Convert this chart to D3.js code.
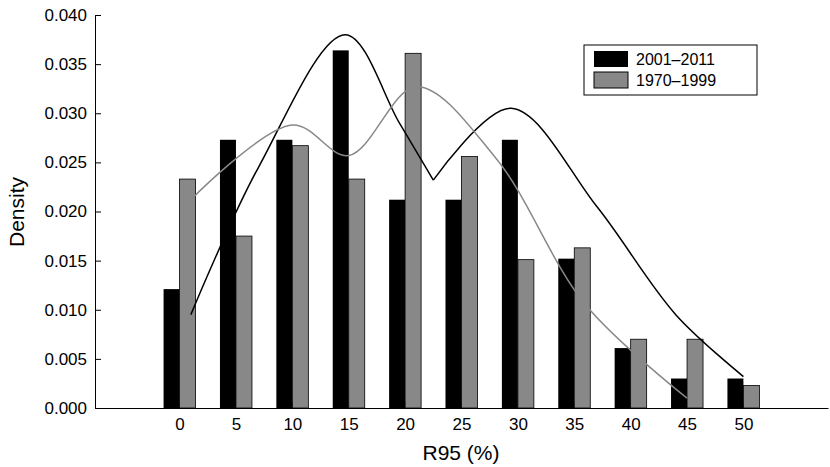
<!DOCTYPE html>
<html><head><meta charset="utf-8">
<script src="https://cdn.jsdelivr.net/npm/d3@7"></script>
<style>body{margin:0;background:#fff}text{font-family:"Liberation Sans",Arial,sans-serif}</style>
</head><body>
<svg id="c" width="830" height="467"></svg>
<script>
// R95 density histogram with fitted curves
var cats = [0, 5, 10, 15, 20, 25, 30, 35, 40, 45, 50];
var recent = [0.0121, 0.0273, 0.0273, 0.0364, 0.0212, 0.0212, 0.0273, 0.0152, 0.0061, 0.0030, 0.0030];
var past = [0.0233, 0.0175, 0.0267, 0.0233, 0.0361, 0.0256, 0.0151, 0.0163, 0.0070, 0.0070, 0.0023];
var yTicks = [0, 0.005, 0.010, 0.015, 0.020, 0.025, 0.030, 0.035, 0.040];
// fitted curves (black split at its cusp)
var recentCurveA = [[1, 0.0095], [7, 0.0245], [14.7, 0.038], [19.5, 0.0290], [22.5, 0.0232]];
var recentCurveB = [[22.5, 0.0232], [29.4, 0.0305], [37, 0.0205], [44, 0.0095], [50, 0.0032]];
var pastCurve = [[1, 0.0212], [10, 0.0288], [15, 0.0257], [21, 0.0327], [28, 0.0255], [36, 0.0105], [45, 0.0010]];

var svg = d3.select('#c');
var x = d3.scaleLinear().domain([-7.5, 57.5]).range([95, 828]);
var y = d3.scaleLinear().domain([0, 0.04]).range([408, 15]);
var bw = 16;

svg.append('g').attr('transform', 'translate(0,408)')
	.call(d3.axisBottom(x).tickValues(cats).tickSize(-6).tickSizeOuter(0).tickPadding(10))
	.call(function (g) {g.selectAll('text').style('font-size', '17px').attr('fill', '#000');});
svg.append('g').attr('transform', 'translate(95,0)')
	.call(d3.axisLeft(y).tickValues(yTicks).tickFormat(d3.format('.3f')).tickSize(-6).tickSizeOuter(0).tickPadding(8))
	.call(function (g) {g.selectAll('text').style('font-size', '17px').attr('fill', '#000');});
svg.selectAll('.domain').attr('stroke', '#000');
svg.selectAll('.tick line').attr('stroke', '#000');

svg.selectAll('rect.r').data(cats).enter().append('rect')
	.attr('x', function (d) {return x(d) - bw;}).attr('width', bw)
	.attr('y', function (d, i) {return y(recent[i]);})
	.attr('height', function (d, i) {return 408 - y(recent[i]);})
	.attr('fill', '#000');
svg.selectAll('rect.p').data(cats).enter().append('rect')
	.attr('x', function (d) {return x(d);}).attr('width', bw)
	.attr('y', function (d, i) {return y(past[i]);})
	.attr('height', function (d, i) {return 408 - y(past[i]);})
	.attr('fill', '#888').attr('stroke', '#000').attr('stroke-width', 0.8);

var line = d3.line().x(function (d) {return x(d[0]);}).y(function (d) {return y(d[1]);}).curve(d3.curveCatmullRom.alpha(0.5));
[recentCurveA, recentCurveB].forEach(function (c) {
	svg.append('path').attr('d', line(c)).attr('fill', 'none').attr('stroke', '#000').attr('stroke-width', 1.5);
});
svg.append('path').attr('d', line(pastCurve)).attr('fill', 'none').attr('stroke', '#888').attr('stroke-width', 1.5);

// legend
var lg = svg.append('g');
lg.append('rect').attr('x', 584).attr('y', 45).attr('width', 173).attr('height', 50).attr('fill', '#fff').attr('stroke', '#000');
lg.append('rect').attr('x', 594).attr('y', 51).attr('width', 34).attr('height', 16).attr('fill', '#000');
lg.append('rect').attr('x', 594).attr('y', 72).attr('width', 34).attr('height', 16).attr('fill', '#888').attr('stroke', '#000');
lg.append('text').attr('x', 636).attr('y', 65).style('font-size', '16px').text('2001–2011');
lg.append('text').attr('x', 636).attr('y', 86).style('font-size', '16px').text('1970–1999');

svg.append('text').attr('x', 461).attr('y', 460).attr('text-anchor', 'middle').style('font-size', '21px').text('R95 (%)');
svg.append('text').attr('transform', 'translate(24,212) rotate(-90)').attr('text-anchor', 'middle').style('font-size', '21px').text('Density');
</script>
</body></html>
